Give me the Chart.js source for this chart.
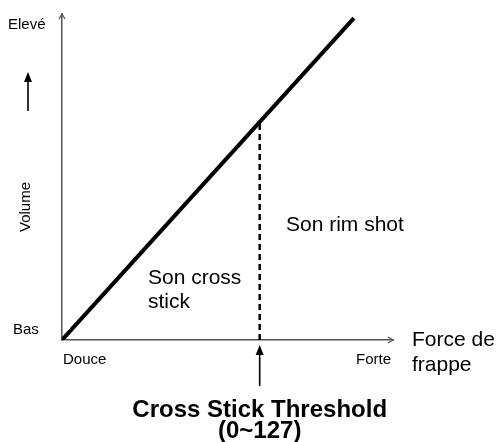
<!DOCTYPE html>
<html>
<head>
<meta charset="utf-8">
<script src="https://cdn.jsdelivr.net/npm/chart.js@4/dist/chart.umd.min.js"></script>
<style>
  body { margin: 0; background: #fff; }
  #wrap { width: 496px; height: 442px; }
</style>
</head>
<body>
<div id="wrap"><canvas id="dvCanvas" width="496" height="442"></canvas></div>
<script>
// velocity (x) vs volume (y), MIDI range
var velocity = [0, 127];
var volume = [0, 127];
var threshold = 86;
var xMax = 144;
var yMax = 128.6;

var axisColor = '#555';
var fontFamily = '"Liberation Sans", Arial, Helvetica, sans-serif';

// arrowheads, axis names and zone labels
var annotations = {
    id: 'annotations',
    afterDraw: function (chart) {
        var ctx = chart.ctx;
        var xs = chart.scales.x, ys = chart.scales.y;
        var left = xs.getPixelForValue(0), bottom = ys.getPixelForValue(0);
        var right = xs.getPixelForValue(xMax), top = ys.getPixelForValue(yMax);
        var tx = xs.getPixelForValue(threshold);

        ctx.save();
        ctx.strokeStyle = axisColor;
        ctx.lineWidth = 1.3;
        // open arrowheads on the axes
        ctx.beginPath();
        ctx.moveTo(left - 3, top + 5); ctx.lineTo(left, top); ctx.lineTo(left + 3, top + 5);
        ctx.moveTo(right - 5, bottom - 3); ctx.lineTo(right, bottom); ctx.lineTo(right - 5, bottom + 3);
        ctx.stroke();

        // filled arrows
        function upArrow(x, y0, y1) {
            ctx.strokeStyle = '#000';
            ctx.fillStyle = '#000';
            ctx.lineWidth = 1.6;
            ctx.beginPath();
            ctx.moveTo(x, y0); ctx.lineTo(x, y1 + 6);
            ctx.stroke();
            ctx.beginPath();
            ctx.moveTo(x, y1); ctx.lineTo(x - 4, y1 + 10); ctx.lineTo(x + 4, y1 + 10);
            ctx.closePath();
            ctx.fill();
        }
        upArrow(28, 111, 72);
        upArrow(tx, 386, bottom + 5);

        ctx.fillStyle = '#000';
        ctx.textBaseline = 'middle';
        ctx.textAlign = 'left';
        ctx.font = '15px ' + fontFamily;
        ctx.fillText('Elevé', 8, 25);
        ctx.fillText('Bas', 13, 330);
        ctx.fillText('Douce', 63, 360);
        ctx.fillText('Forte', 356, 360);

        ctx.save();
        ctx.translate(26, 207);
        ctx.rotate(-Math.PI / 2);
        ctx.textAlign = 'center';
        ctx.fillText('Volume', 0, 0);
        ctx.restore();

        ctx.font = '21px ' + fontFamily;
        ctx.fillText('Force de', 412, 340);
        ctx.fillText('frappe', 412, 365);
        ctx.fillText('Son rim shot', 286, 225);
        ctx.fillText('Son cross', 148, 278);
        ctx.fillText('stick', 148, 302);

        ctx.textAlign = 'center';
        ctx.font = 'bold 24px ' + fontFamily;
        ctx.fillText('Cross Stick Threshold', tx, 410);
        ctx.fillText('(0~127)', tx, 431);
        ctx.restore();
    }
};

var ctx = document.getElementById('dvCanvas').getContext('2d');
var myChart = new Chart(ctx, {
    type: 'scatter',
    data: {
        datasets: [{
            data: velocity.map(function (v, i) { return { x: v, y: volume[i] }; }),
            showLine: true,
            borderColor: '#000',
            borderWidth: 4,
            pointRadius: 0
        }, {
            data: [{ x: threshold, y: 0 }, { x: threshold, y: threshold }],
            showLine: true,
            borderColor: '#000',
            borderWidth: 2.5,
            borderDash: [6, 4],
            pointRadius: 0
        }]
    },
    options: {
        responsive: false,
        animation: false,
        layout: { padding: { left: 62, top: 14, right: 103, bottom: 102 } },
        plugins: { legend: { display: false }, tooltip: { enabled: false } },
        scales: {
            x: {
                type: 'linear', min: 0, max: xMax,
                ticks: { display: false },
                grid: { display: false, drawTicks: false },
                border: { color: axisColor, width: 1.5 }
            },
            y: {
                type: 'linear', min: 0, max: yMax,
                ticks: { display: false },
                grid: { display: false, drawTicks: false },
                border: { color: axisColor, width: 1.5 }
            }
        }
    },
    plugins: [annotations]
});
</script>
</body>
</html>
